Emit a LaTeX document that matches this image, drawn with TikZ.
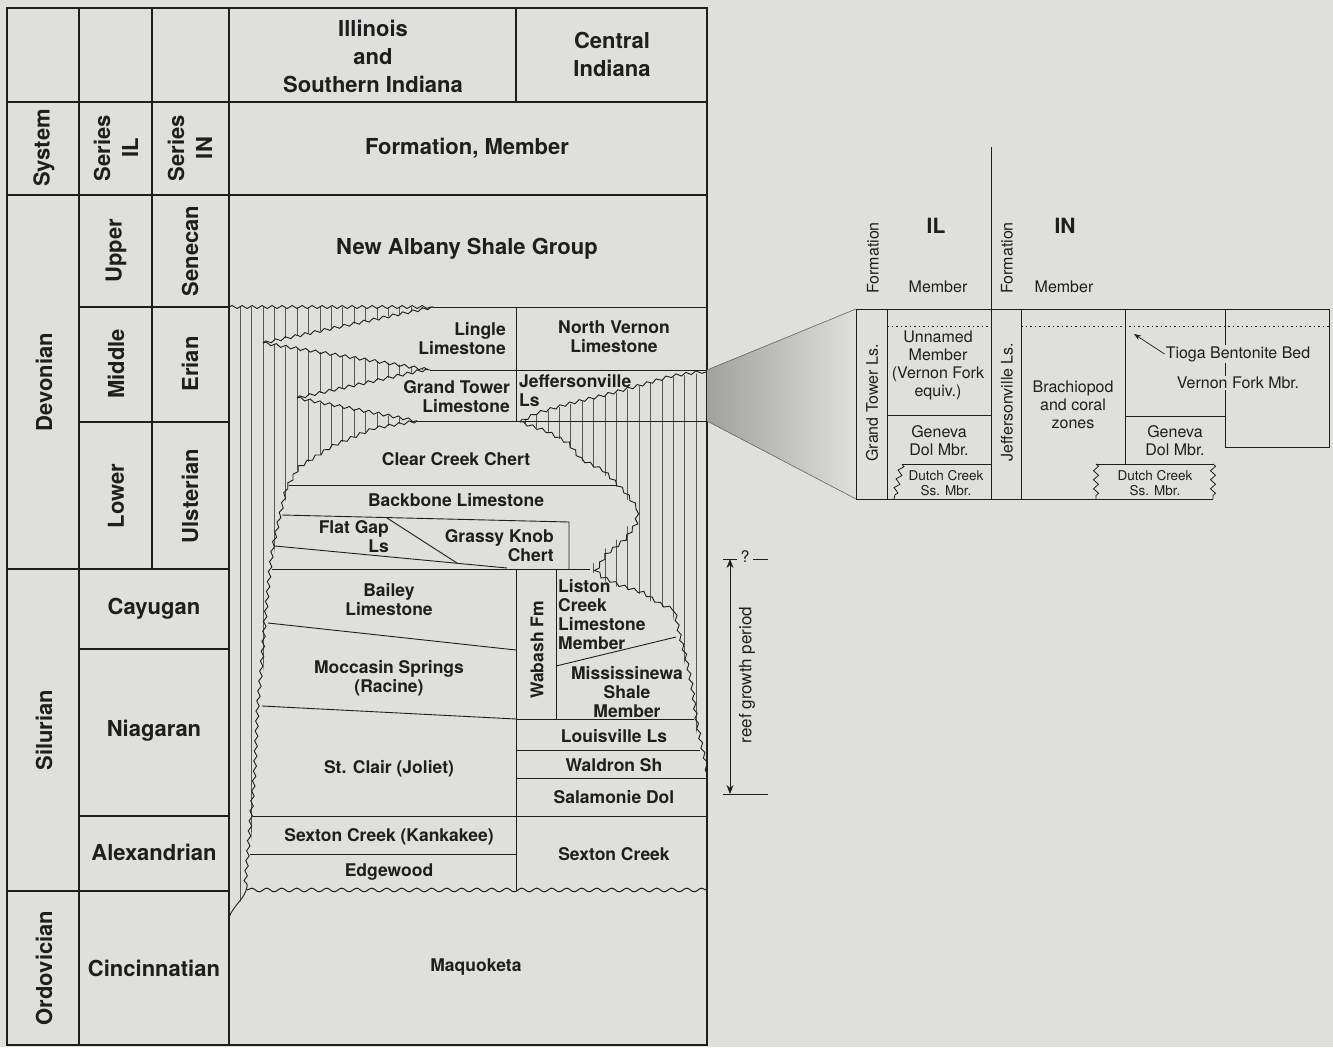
\documentclass[tikz,border=0pt]{standalone}
\usepackage{fontspec}
\setmainfont{TeX Gyre Heros}
\usetikzlibrary{arrows.meta,decorations.pathmorphing}

\definecolor{paper}{RGB}{223,224,219}
\definecolor{ink}{RGB}{30,30,30}

\tikzset{%
  frame line/.style={draw=ink, line width=1.6pt},
  grid line/.style={draw=ink, line width=1.2pt},
  thin line/.style={draw=ink, line width=0.9pt},
  hatch line/.style={draw=ink!75, line width=0.5pt},
  wavy/.style={
    draw=ink,
    line width=0.9pt,
    decorate,
    decoration={snake, amplitude=1.5pt, segment length=10pt}
  },
  unconf/.style={
    draw=ink,
    line width=1pt,
    decorate,
    decoration={snake, amplitude=1.8pt, segment length=15pt}
  },
  jagged/.style={
    draw=ink,
    line width=0.8pt,
    decorate,
    decoration={zigzag, amplitude=2.5pt, segment length=9pt}
  },
  head text/.style={text=ink, font=\fontsize{22}{28}\selectfont\bfseries, align=center, inner sep=1pt},
  unit text/.style={text=ink, font=\fontsize{17.5}{19}\selectfont\bfseries, align=center, inner sep=1pt},
  note text/.style={text=ink, font=\fontsize{16}{18}\selectfont, align=center, inner sep=1pt},
  tiny text/.style={text=ink, font=\fontsize{13.5}{15.5}\selectfont, align=center, inner sep=1pt},
}

\begin{document}
\begin{tikzpicture}[x=1pt, y=-1pt, >=Stealth]

\fill[paper] (0,0) rectangle (1333,1047);
\useasboundingbox (0,0) rectangle (1333,1047);

% REEF hatching
\begin{scope}
  \clip (229,307) -- (433,307) -- (263,343) -- (428,369) -- (297,398) -- (417,421)
    -- (375,428) -- (335,445) -- (300,467) -- (289,485) -- (282,515) -- (275,546)
    -- (272,570) -- (267,622) -- (263,673) -- (260,703) -- (257,770) -- (253,817)
    -- (250,853) -- (247,887) -- (240,903) -- (229,917) -- cycle
    (520,422) -- (533,415) -- (567,405) -- (600,397) -- (633,388) -- (667,378)
    -- (707,372) -- (707,775) -- (700,748) -- (694,720) -- (690,690) -- (684,660)
    -- (677,635) -- (672,611) -- (655,604) -- (640,594) -- (615,586) -- (598,578)
    -- (590,569) -- (600,553) -- (620,537) -- (632,520) -- (633,507) -- (620,490)
    -- (613,483) -- (600,470) -- (580,460) -- (567,443) -- (543,430) -- cycle;
  \foreach \x in {240,251.4,...,708}
    \draw[hatch line] (\x,300) -- (\x,920);
\end{scope}

% MAIN table rules
\draw[frame line] (7,8) rectangle (707,1045);
\draw[grid line] (79,8) -- (79,1045);
\draw[grid line] (152,8) -- (152,569);
\draw[grid line] (229,8) -- (229,1045);
\draw[grid line] (516,8) -- (516,102);
\foreach \y in {102,195}
  \draw[grid line] (7,\y) -- (707,\y);
\foreach \y in {307,422,649,816}
  \draw[grid line] (79,\y) -- (229,\y);
\foreach \y in {569,891}
  \draw[grid line] (7,\y) -- (229,\y);

% FORMATION contacts
\draw[thin line] (433,307) -- (707,307);
\draw[thin line] (430,370) -- (707,370);
\draw[thin line] (417,421) -- (707,421);
\draw[thin line] (516,307) -- (516,421);
\draw[thin line] (289,485) -- (617,485);
\draw[thin line] (282,515) -- (569,522) -- (569,569);
\draw[thin line] (387,518) -- (457,563);
\draw[thin line] (275,546) -- (507,568);
\draw[thin line] (272,569) -- (590,569);
\draw[thin line] (268,623) -- (516,650);
\draw[thin line] (262,706) -- (516,719);
\draw[thin line] (516,569) -- (516,891);
\draw[thin line] (556,569) -- (556,719);
\draw[thin line] (556,666) -- (676,637);
\draw[thin line] (516,719) -- (694,719);
\draw[thin line] (516,750) -- (700,750);
\draw[thin line] (516,778) -- (707,778);
\draw[thin line] (253,816) -- (707,816);
\draw[thin line] (250,854) -- (516,854);

% REEF margins
\draw[wavy] (229,307) -- (433,307);
\draw[wavy] (263,343) -- (433,307);
\draw[wavy] (263,343) -- (430,370);
\draw[wavy] (297,398) -- (428,369);
\draw[wavy] (297,398) -- (417,421);
\draw[wavy] (417,421) -- (375,428) -- (335,445) -- (300,467) -- (289,485)
  -- (282,515) -- (275,546) -- (272,570) -- (267,622) -- (263,673) -- (260,703)
  -- (257,770) -- (253,817) -- (250,853) -- (247,887);
\draw[thin line] (247,887) .. controls (244,900) and (236,902) .. (229,917);
\draw[wavy] (520,422) -- (533,415) -- (567,405) -- (600,397) -- (633,388)
  -- (667,378) -- (707,372);
\draw[wavy] (520,422) -- (543,430) -- (567,443) -- (580,460) -- (600,470)
  -- (613,483) -- (620,490) -- (633,507) -- (632,520) -- (620,537) -- (600,553)
  -- (590,569) -- (598,578) -- (615,586) -- (640,594) -- (655,604) -- (672,611)
  -- (677,635) -- (684,660) -- (690,690) -- (694,720) -- (700,748) -- (707,775);
\draw[unconf] (247,890) -- (707,890);

% HEADER labels
\node[head text] (illinois) at (373,56) {Illinois\\and\\Southern Indiana};
\node[head text] (central) at (612,54) {Central\\Indiana};
\node[head text, rotate=90] (system) at (44,148) {System};
\node[head text, rotate=90] (seriesIL) at (116,148) {Series\\IL};
\node[head text, rotate=90] (seriesIN) at (190,148) {Series\\IN};
\node[head text] (formhead) at (467,148) {Formation, Member};

% SYSTEM and SERIES labels
\node[head text, rotate=90] (devonian) at (44,382) {Devonian};
\node[head text, rotate=90] (silurian) at (44,730) {Silurian};
\node[head text, rotate=90] (ordovician) at (44,968) {Ordovician};
\foreach \n/\t/\y in {upper/Upper/251, middle/Middle/364, lower/Lower/496}
  \node[head text, rotate=90] (\n) at (116,\y) {\t};
\foreach \n/\t/\y in {senecan/Senecan/251, erian/Erian/364, ulsterian/Ulsterian/496}
  \node[head text, rotate=90] (\n) at (190,\y) {\t};
\foreach \n/\t/\y in {cayugan/Cayugan/609, niagaran/Niagaran/731,
                      alexandrian/Alexandrian/852, cincinnatian/Cincinnatian/968}
  \node[head text] (\n) at (154,\y) {\t};

% FORMATION labels
\node[head text] (newalbany) at (467,249) {New Albany Shale Group};
\node[unit text, anchor=east, align=right] (lingle) at (507,339) {Lingle\\Limestone};
\node[unit text] (nvernon) at (614,337) {North Vernon\\Limestone};
\node[unit text, anchor=east, align=right] (grandtower) at (511,397) {Grand Tower\\Limestone};
\node[unit text, anchor=west, align=left] (jeff) at (518,391) {Jeffersonville\\Ls};
\node[unit text] (clearcreek) at (456,459) {Clear Creek Chert};
\node[unit text] (backbone) at (456,500) {Backbone Limestone};
\node[unit text, anchor=east, align=right] (flatgap) at (390,537) {Flat Gap\\Ls};
\node[unit text, anchor=east, align=right] (grassyknob) at (555,546) {Grassy Knob\\Chert};
\node[unit text] (bailey) at (389,600) {Bailey\\Limestone};
\node[unit text] (moccasin) at (389,678) {Moccasin Springs\\(Racine)};
\node[unit text, rotate=90] (wabash) at (537,650) {Wabash Fm};
\node[unit text, anchor=west, align=left] (liston) at (557,615) {Liston\\Creek\\Limestone\\Member};
\node[unit text] (mississinewa) at (627,692) {Mississinewa\\Shale\\Member};
\node[unit text] (louisville) at (614,736) {Louisville Ls};
\node[unit text] (waldron) at (614,765) {Waldron Sh};
\node[unit text] (salamonie) at (614,797) {Salamonie Dol};
\node[unit text] (stclair) at (389,769) {St. Clair (Joliet)};
\node[unit text] (kankakee) at (389,837) {Sexton Creek (Kankakee)};
\node[unit text] (edgewood) at (389,872) {Edgewood};
\node[unit text] (sextonIN) at (614,854) {Sexton Creek};
\node[unit text] (maquoketa) at (476,967) {Maquoketa};

% REEF growth period
\coordinate (rgtop) at (730,559);
\coordinate (rgbot) at (730,794);
\draw[thin line, line width=0.8pt, {Stealth[length=9pt,width=7pt]}-{Stealth[length=9pt,width=7pt]}] (rgtop) -- (rgbot);
\draw[thin line, line width=0.8pt] (723,559) -- (737,559) (753,559) -- (768,559);
\draw[thin line, line width=0.8pt] (723,794) -- (768,794);
\node[note text] (query) at (745,557) {?};
\node[note text, font=\fontsize{17}{19}\selectfont, rotate=90] (reefnote) at (747,675) {reef growth period};

% ENLARGEMENT wedge
\shade[left color=black!28!paper, right color=paper] (707,370) -- (856,309) -- (856,499) -- (707,421) -- cycle;
\draw[draw=ink!70, line width=0.6pt] (707,370) -- (856,309) (707,421) -- (856,499);

% DETAIL table
\draw[thin line] (856,309) -- (1329,309) -- (1329,447) -- (1225,447);
\draw[thin line] (856,309) -- (856,499) -- (1213,499);
\draw[thin line] (887,309) -- (887,499);
\draw[thin line] (991.5,147) -- (991.5,499);
\draw[thin line] (1021,309) -- (1021,499);
\draw[thin line] (1125,309) -- (1125,464);
\draw[thin line] (1225,309) -- (1225,447);
\draw[thin line] (887,415) -- (991.5,415);
\draw[thin line] (1125,416) -- (1225,416);
\draw[thin line] (991.5,464) -- (902,464);
\draw[jagged] (902,464) -- (894,499);
\draw[thin line] (1096,464) -- (1213,464);
\draw[jagged] (1096,464) -- (1096,499);
\draw[jagged] (1213,464) -- (1213,499);
\draw[thin line, dash pattern=on 1.5pt off 3pt] (887,326) -- (991.5,326) (1021,326) -- (1329,326);

% DETAIL labels
\node[note text, rotate=90] (formIL) at (873,258) {Formation};
\node[head text, font=\fontsize{21}{24}\selectfont\bfseries] (ilhead) at (936,226) {IL};
\node[note text] (memIL) at (938,287) {Member};
\node[note text, rotate=90] (formIN) at (1007,258) {Formation};
\node[head text, font=\fontsize{21}{24}\selectfont\bfseries] (inhead) at (1065,226) {IN};
\node[note text] (memIN) at (1064,287) {Member};
\node[note text, rotate=90] (gtls) at (872,403) {Grand Tower Ls.};
\node[note text] (unnamed) at (938,365) {Unnamed\\Member\\(Vernon Fork\\equiv.)};
\node[note text] (genevaIL) at (939,441) {Geneva\\Dol Mbr.};
\node[tiny text] (dutchIL) at (946,483) {Dutch Creek\\Ss. Mbr.};
\node[note text, rotate=90] (jeffls) at (1007,402) {Jeffersonville Ls.};
\node[note text] (brach) at (1073,405) {Brachiopod\\and coral\\zones};
\node[note text, fill=paper] (tioga) at (1238,354) {Tioga Bentonite Bed};
\node[note text, fill=paper] (vfork) at (1238,383) {Vernon Fork Mbr.};
\node[note text] (genevaIN) at (1175,441) {Geneva\\Dol Mbr.};
\node[tiny text] (dutchIN) at (1155,483) {Dutch Creek\\Ss. Mbr.};
\coordinate (tiogapt) at (1134,334);
\draw[thin line, line width=0.7pt, -{Stealth[length=7pt,width=5pt]}] (tioga.west) -- (tiogapt);

\end{tikzpicture}
\end{document}
